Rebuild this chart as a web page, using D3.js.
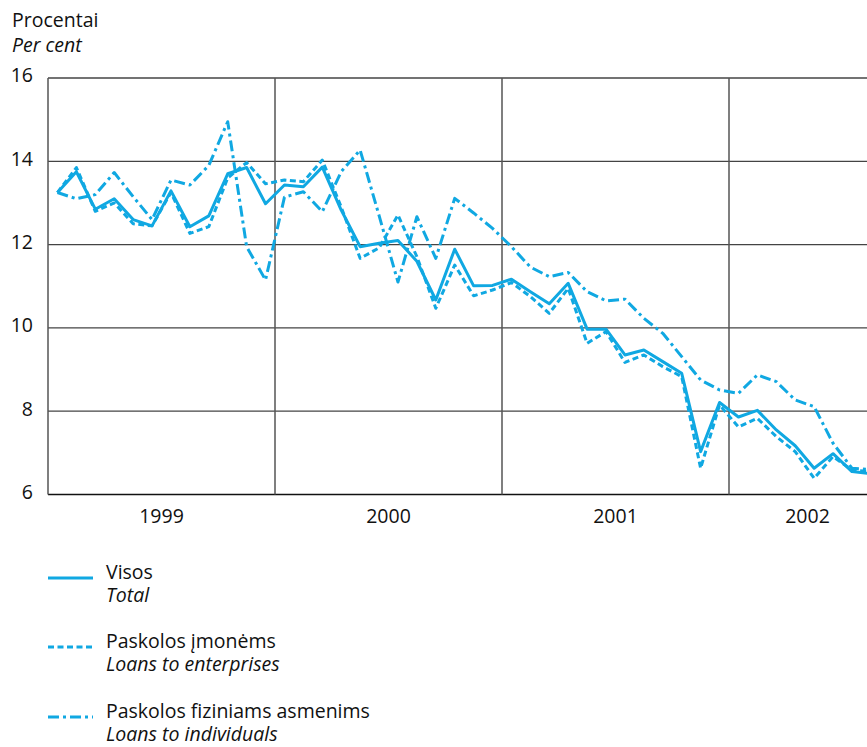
<!DOCTYPE html>
<html>
<head>
<meta charset="utf-8">
<script src="https://cdn.jsdelivr.net/npm/d3@7"></script>
<style>
  body { margin: 0; background: #fff; }
  svg { display: block; font-family: "Open Sans", Lato, sans-serif; }
</style>
</head>
<body>
<div id="chart"></div>
<script>
// Monthly data, Jan 1999 - Aug 2002
const years = ["1999", "2000", "2001", "2002"];
const yTicks = [6, 8, 10, 12, 14, 16];

const total = [13.25, 13.75, 12.85, 13.1, 12.6, 12.45, 13.29, 12.43, 12.69, 13.7, 13.85, 12.98,
  13.43, 13.39, 13.86, 12.83, 11.95, 12.03, 12.1, 11.6, 10.67, 11.89, 11.01, 11.02,
  11.17, 10.87, 10.58, 11.07, 9.97, 9.97, 9.35, 9.47, 9.19, 8.91, 7.03, 8.21,
  7.86, 8.02, 7.55, 7.17, 6.63, 6.98, 6.55, 6.5];

const enterprises = [13.25, 13.85, 12.8, 13.0, 12.5, 12.45, 13.25, 12.27, 12.43, 13.6, 13.97, 13.46,
  13.55, 13.51, 14.03, 12.9, 11.67, 11.92, 12.71, 11.71, 10.47, 11.51, 10.77, 10.91,
  11.09, 10.75, 10.35, 10.95, 9.63, 9.91, 9.17, 9.35, 9.07, 8.83, 6.63, 8.15,
  7.62, 7.83, 7.39, 7.03, 6.39, 6.91, 6.59, 6.55];

const individuals = [13.25, 13.1, 13.2, 13.73, 13.15, 12.6, 13.55, 13.43, 13.9, 14.95, 11.95, 11.15,
  13.14, 13.27, 12.79, 13.75, 14.27, 12.7, 11.1, 12.67, 11.67, 13.11, 12.76, 12.39,
  11.95, 11.46, 11.23, 11.33, 10.87, 10.65, 10.69, 10.23, 9.87, 9.31, 8.75, 8.51,
  8.43, 8.87, 8.71, 8.27, 8.11, 7.23, 6.63, 6.6];

const seriesNames = ["Visos", "Paskolos įmonėms", "Paskolos fiziniams asmenims"];
const seriesNamesEn = ["Total", "Loans to enterprises", "Loans to individuals"];

function renderChart() {
  const width = 867, height = 747;
  const color = "#10a8e2";
  const fontSize = "19.5px";
  const dashes = [null, "6,3.5", "11,4,3,4"];

  const svg = d3.select("#chart")
    .append("svg")
    .attr("width", width)
    .attr("height", height);

  // month index -> x (each year is 12 months wide)
  const x = d3.scaleLinear().domain([0, 48]).range([48, 956]);
  const y = d3.scaleLinear().domain([6, 16]).range([494.5, 78]);
  const plotRight = 886;

  // horizontal grid lines
  svg.append("g")
    .selectAll("line")
    .data(yTicks)
    .enter().append("line")
    .attr("x1", x(0))
    .attr("x2", width)
    .attr("y1", d => y(d))
    .attr("y2", d => y(d))
    .attr("stroke", d => d === 6 ? "#111" : "#444")
    .attr("stroke-width", d => d === 6 ? 1.6 : 1.3);

  // vertical year separators and left border
  svg.append("g")
    .selectAll("line")
    .data([0, 12, 24, 36])
    .enter().append("line")
    .attr("x1", d => x(d))
    .attr("x2", d => x(d))
    .attr("y1", y(16))
    .attr("y2", y(6))
    .attr("stroke", "#555")
    .attr("stroke-width", 1.5);

  // y axis labels
  svg.append("g")
    .attr("transform", `translate(${x(0)},0)`)
    .call(d3.axisLeft(y).tickValues(yTicks).tickSize(0).tickPadding(15))
    .call(g => g.select(".domain").remove())
    .selectAll("text")
    .attr("dy", "0.2em")
    .style("font-size", fontSize)
    .style("font-family", "'Open Sans', sans-serif")
    .attr("fill", "#111");

  // year labels centred on each year
  const yearMid = years.map((yr, i) => {
    const a = x(i * 12);
    const b = Math.min(x(i * 12 + 12), plotRight);
    return (a + b) / 2;
  });
  svg.append("g")
    .selectAll("text")
    .data(years)
    .enter().append("text")
    .attr("x", (d, i) => yearMid[i])
    .attr("y", 523)
    .attr("text-anchor", "middle")
    .style("font-size", fontSize)
    .attr("fill", "#111")
    .text(d => d);

  // unit title (two lines in one text)
  const title = svg.append("text")
    .attr("x", 12).attr("y", 27)
    .style("font-size", fontSize)
    .attr("fill", "#111");
  title.append("tspan").text("Procentai");
  title.append("tspan")
    .attr("x", 12).attr("dy", 25)
    .style("font-style", "italic")
    .text("Per cent");

  // lines
  const line = d3.line()
    .x((d, i) => x(i + 0.5))
    .y(d => y(d));

  const data = [total, enterprises, individuals];
  const lines = svg.append("g");
  [2, 1, 0].forEach(k => {
    lines.append("path")
      .datum(data[k])
      .attr("d", line)
      .attr("fill", "none")
      .attr("stroke", color)
      .attr("stroke-width", 3)
      .attr("stroke-linejoin", "round")
      .attr("stroke-dasharray", dashes[k]);
  });

  // legend
  const legendY = [578, 647, 717];
  const legend = svg.append("g");
  seriesNames.forEach((name, k) => {
    legend.append("line")
      .attr("x1", 48).attr("x2", 93)
      .attr("y1", legendY[k]).attr("y2", legendY[k])
      .attr("stroke", color)
      .attr("stroke-width", 3)
      .attr("stroke-dasharray", dashes[k]);
    const t = legend.append("text")
      .attr("x", 106).attr("y", legendY[k] + 1)
      .style("font-size", fontSize)
      .attr("fill", "#111");
    t.append("tspan").text(name);
    t.append("tspan")
      .attr("x", 106).attr("dy", 23)
      .style("font-style", "italic")
      .text(seriesNamesEn[k]);
  });
}

document.addEventListener('DOMContentLoaded', renderChart);
</script>
</body>
</html>
